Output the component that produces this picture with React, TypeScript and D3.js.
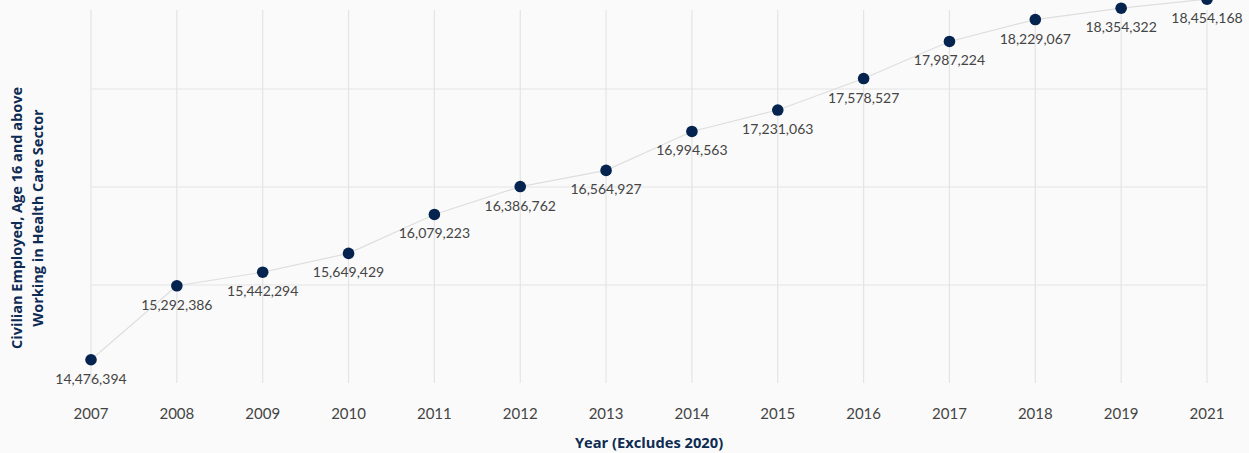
import React, { useEffect, useRef } from "react";
import * as d3 from "d3";

const years = ["2007", "2008", "2009", "2010", "2011", "2012", "2013", "2014", "2015", "2016", "2017", "2018", "2019", "2021"];
const employed = [14476394, 15292386, 15442294, 15649429, 16079223, 16386762, 16564927, 16994563, 17231063, 17578527, 17987224, 18229067, 18354322, 18454168];
const yDomain = [14220000, 18544000];

const W = 1249;
const H = 453;

export default function App() {
  const ref = useRef<SVGSVGElement>(null);

  useEffect(() => {
    document.body.style.margin = "0";
    document.body.style.background = "#fafafa";
    const svg = d3.select(ref.current);
    svg.selectAll("*").remove();

    const x = d3.scalePoint().domain(years).range([91, 1207]);
    const y = d3.scaleLinear().domain(yDomain).range([383, -9]);

    const font = "Lato, 'Open Sans', sans-serif";
    const titleFont = "'Open Sans', Lato, sans-serif";
    const navy = "#0e2b53";

    // vertical grid
    svg.append("g").selectAll("line").data(years).enter().append("line")
      .attr("x1", (d) => x(d)!).attr("x2", (d) => x(d)!)
      .attr("y1", 10).attr("y2", 383)
      .style("stroke", "#e4e4e4").style("stroke-width", 1.2);

    // horizontal grid (inner quarters of the domain)
    const step = (yDomain[1] - yDomain[0]) / 4;
    const hTicks = [1, 2, 3].map((i) => yDomain[0] + i * step);
    svg.append("g").selectAll("line").data(hTicks).enter().append("line")
      .attr("x1", 91).attr("x2", 1207)
      .attr("y1", (d) => y(d)).attr("y2", (d) => y(d))
      .style("stroke", "#e4e4e4").style("stroke-width", 1.2);

    const pts = years.map((yr, i) => ({ yr, v: employed[i] }));

    const line = d3.line<{ yr: string; v: number }>().x((d) => x(d.yr)!).y((d) => y(d.v));
    svg.append("path").datum(pts).attr("d", line)
      .style("fill", "none").style("stroke", "#dedede").style("stroke-width", 1.2);

    svg.append("g").selectAll("circle").data(pts).enter().append("circle")
      .attr("cx", (d) => x(d.yr)!).attr("cy", (d) => y(d.v)).attr("r", 5.8)
      .style("fill", "#04244f");

    const fmt = d3.format(",");
    svg.append("g").selectAll("text").data(pts).enter().append("text")
      .attr("x", (d) => x(d.yr)!).attr("y", (d) => y(d.v) + 24)
      .attr("text-anchor", "middle")
      .style("font-family", font).style("font-size", "14px").style("fill", "#444")
      .text((d) => fmt(d.v));

    // x tick labels
    svg.append("g").selectAll("text").data(years).enter().append("text")
      .attr("x", (d) => x(d)!).attr("y", 419)
      .attr("text-anchor", "middle")
      .style("font-family", font).style("font-size", "15px").style("fill", "#444")
      .text((d) => d);

    svg.append("text").attr("x", 649).attr("y", 448).attr("text-anchor", "middle")
      .style("font-family", titleFont).style("font-size", "14.7px").style("font-weight", "bold").style("fill", navy)
      .text("Year (Excludes 2020)");

    const yt = svg.append("text").attr("transform", "translate(22,218) rotate(-90)").attr("text-anchor", "middle")
      .style("font-family", titleFont).style("font-size", "14.5px").style("font-weight", "bold").style("fill", navy);
    yt.append("tspan").attr("x", 0).attr("dy", 0).text("Civilian Employed, Age 16 and above");
    yt.append("tspan").attr("x", 0).attr("dy", 21).text("Working in Health Care Sector");
  }, []);

  return <svg ref={ref} width={W} height={H} style={{ display: "block", background: "#fafafa" }}></svg>;
}
